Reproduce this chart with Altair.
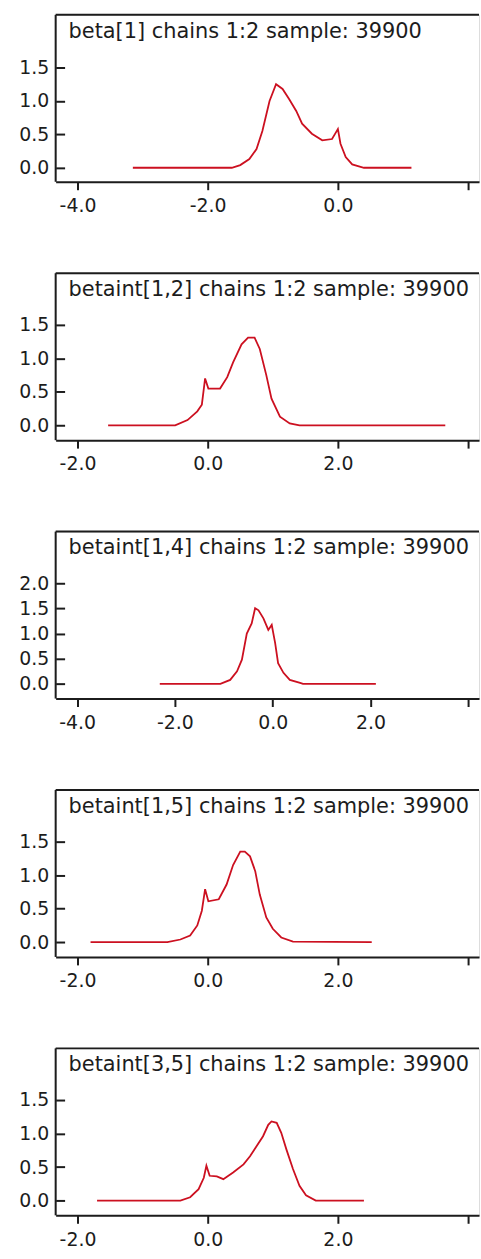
import altair as alt
import pandas as pd

# ---- data ----
titles = [
    "beta[1] chains 1:2 sample: 39900",
    "betaint[1,2] chains 1:2 sample: 39900",
    "betaint[1,4] chains 1:2 sample: 39900",
    "betaint[1,5] chains 1:2 sample: 39900",
    "betaint[3,5] chains 1:2 sample: 39900",
]

x1 = [-3.15, -1.63, -1.50, -1.36, -1.25, -1.16, -1.05, -0.95, -0.85, -0.75, -0.64,
      -0.55, -0.40, -0.24, -0.09, -0.03, 0.0, 0.04, 0.12, 0.22, 0.40, 1.13]
y1 = [0, 0, 0.04, 0.13, 0.28, 0.55, 1.0, 1.25, 1.18, 1.03, 0.85,
      0.66, 0.51, 0.41, 0.43, 0.53, 0.58, 0.36, 0.16, 0.05, 0.0, 0.0]

x2 = [-1.53, -0.50, -0.31, -0.16, -0.09, -0.04, 0.01, 0.19, 0.30, 0.39, 0.52,
      0.62, 0.72, 0.80, 0.90, 0.98, 1.11, 1.26, 1.41, 3.65]
y2 = [0, 0, 0.08, 0.21, 0.31, 0.70, 0.55, 0.55, 0.72, 0.94, 1.21,
      1.31, 1.31, 1.14, 0.75, 0.40, 0.13, 0.03, 0.0, 0.0]

x3 = [-2.31, -1.07, -0.87, -0.73, -0.63, -0.53, -0.43, -0.36, -0.29, -0.19,
      -0.09, -0.02, 0.05, 0.11, 0.22, 0.35, 0.56, 0.62, 2.11]
y3 = [0, 0, 0.08, 0.25, 0.48, 1.0, 1.2, 1.5, 1.46, 1.30,
      1.07, 1.17, 0.81, 0.41, 0.22, 0.08, 0.02, 0.0, 0.0]

x4 = [-1.80, -0.62, -0.42, -0.27, -0.16, -0.09, -0.04, 0.01, 0.17, 0.29, 0.39,
      0.50, 0.57, 0.65, 0.73, 0.80, 0.90, 1.00, 1.13, 1.31, 2.52]
y4 = [0, 0, 0.04, 0.10, 0.25, 0.47, 0.79, 0.61, 0.64, 0.86, 1.15,
      1.35, 1.35, 1.28, 1.06, 0.71, 0.37, 0.20, 0.07, 0.01, 0.0]

x5 = [-1.70, -0.42, -0.27, -0.14, -0.06, -0.02, 0.03, 0.14, 0.24, 0.39, 0.55, 0.65,
      0.75, 0.85, 0.93, 0.98, 1.06, 1.13, 1.21, 1.31, 1.41, 1.51, 1.66, 2.40]
y5 = [0, 0, 0.05, 0.17, 0.34, 0.52, 0.37, 0.36, 0.32, 0.42, 0.54, 0.66,
      0.81, 0.96, 1.13, 1.18, 1.16, 1.01, 0.76, 0.47, 0.22, 0.08, 0.0, 0.0]

xs = [x1, x2, x3, x4, x5]
ys = [y1, y2, y3, y4, y5]

x_domains = [[-4.336, 2.168], [-2.336, 4.168], [-4.44, 4.22], [-2.336, 4.168], [-2.336, 4.168]]
y_domains = [[-0.21, 2.29], [-0.22, 2.27], [-0.29, 3.02], [-0.22, 2.27], [-0.22, 2.27]]
x_ticks = [[-4, -2, 0, 2], [-2, 0, 2, 4], [-4, -2, 0, 2, 4], [-2, 0, 2, 4], [-2, 0, 2, 4]]
x_label_max = [0, 2, 2, 2, 2]  # last tick carries no label
y_ticks = [[0, 0.5, 1.0, 1.5], [0, 0.5, 1.0, 1.5], [0, 0.5, 1.0, 1.5, 2.0],
           [0, 0.5, 1.0, 1.5], [0, 0.5, 1.0, 1.5]]

W = 426
H = 168
FONT = "DejaVu Sans"
INK = "#1c1c1c"
RED = "#cc1020"


def panel(i):
    df = pd.DataFrame({"x": xs[i], "y": ys[i]})
    one = pd.DataFrame({"t": [titles[i]]})
    lab_max = x_label_max[i]
    label_expr = (
        f"datum.value > {lab_max} ? '' : "
        "(datum.value < 0 ? '-' : '') + format(abs(datum.value), '.1f')"
    )
    xenc = alt.X(
        "x:Q",
        scale=alt.Scale(domain=x_domains[i], nice=False, zero=False),
        axis=alt.Axis(
            title=None, values=x_ticks[i], grid=False,
            domain=True, domainColor=INK, domainWidth=2,
            ticks=True, tickColor=INK, tickWidth=2, tickSize=8,
            labelFont=FONT, labelFontSize=19, labelColor=INK,
            labelPadding=7, labelFlush=False, labelOverlap=False,
            labelExpr=label_expr,
        ),
    )
    yenc = alt.Y(
        "y:Q",
        scale=alt.Scale(domain=y_domains[i], nice=False, zero=False),
        axis=alt.Axis(
            title=None, values=y_ticks[i], grid=False, domain=False,
            offset=-9, ticks=True, tickColor=INK, tickWidth=2, tickSize=9,
            labelFont=FONT, labelFontSize=19, labelColor=INK,
            labelPadding=7, labelOverlap=False, format=".1f",
        ),
    )
    line = alt.Chart(df).mark_line(color=RED, strokeWidth=1.8, clip=True).encode(
        x=xenc, y=yenc
    )
    top = alt.Chart(one).mark_rule(color=INK, strokeWidth=2).encode(
        x=alt.value(0), x2=alt.value(W), y=alt.value(0)
    )
    left = alt.Chart(one).mark_rule(color=INK, strokeWidth=2).encode(
        x=alt.value(0), y=alt.value(0), y2=alt.value(H)
    )
    title = alt.Chart(one).mark_text(
        align="left", baseline="alphabetic", font=FONT, fontSize=21,
        color=INK, clip=True,
    ).encode(x=alt.value(13), y=alt.value(23), text="t:N")
    return alt.layer(line, top, left, title).properties(width=W, height=H)


chart = alt.vconcat(*[panel(i) for i in range(5)], spacing=92, bounds="flush").properties(
    padding={"left": 18, "top": 9, "right": 0, "bottom": 0}
).configure_view(strokeWidth=0).configure(background="white")

chart.save("out.html", embed_options={"renderer": "svg", "actions": False})
